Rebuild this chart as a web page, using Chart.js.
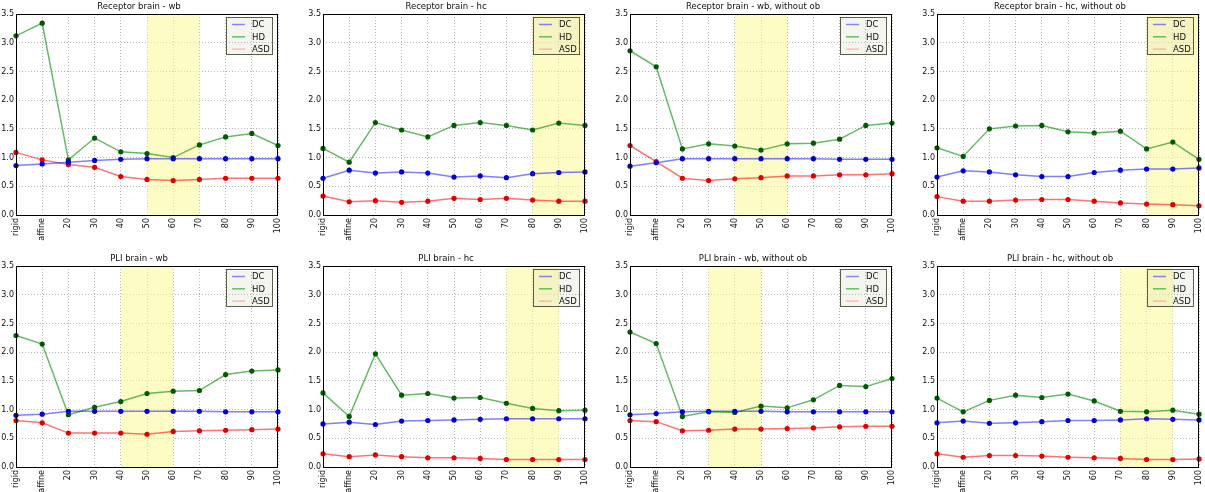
<!DOCTYPE html>
<html>
<head>
<meta charset="utf-8">
<script src="https://cdn.jsdelivr.net/npm/chart.js@4.4.1/dist/chart.umd.min.js"></script>
<style>
    html, body { margin: 0; padding: 0; background: #ffffff; overflow: hidden; }
    body { width: 1205px; height: 492px; position: relative; }
    .panel { position: absolute; }
</style>
</head>
<body>
<script>
// categories and tick labels
const categories = ['rigid', 'affine', '20', '30', '40', '50', '60', '70', '80', '90', '100'];
const yTickValues = [0.0, 0.5, 1.0, 1.5, 2.0, 2.5, 3.0, 3.5];
const seriesNames = ['DC', 'HD', 'ASD'];

const panelTitles = [
    'Receptor brain - wb', 'Receptor brain - hc', 'Receptor brain - wb, without ob', 'Receptor brain - hc, without ob',
    'PLI brain - wb', 'PLI brain - hc', 'PLI brain - wb, without ob', 'PLI brain - hc, without ob'
];
// highlighted range per panel (category labels)
const spanFrom = ['50', '80', '40', '80', '40', '70', '30', '70'];
const spanTo   = ['70', '100', '60', '100', '60', '90', '50', '90'];

// Receptor brain - wb
const recWbDC  = [0.86, 0.89, 0.92, 0.95, 0.97, 0.98, 0.98, 0.98, 0.98, 0.98, 0.98];
const recWbHD  = [3.12, 3.34, 0.96, 1.34, 1.10, 1.07, 1.00, 1.22, 1.36, 1.42, 1.21];
const recWbASD = [1.09, 0.96, 0.88, 0.83, 0.67, 0.62, 0.60, 0.62, 0.64, 0.64, 0.64];
// Receptor brain - hc
const recHcDC  = [0.64, 0.78, 0.73, 0.75, 0.73, 0.66, 0.68, 0.65, 0.72, 0.74, 0.75];
const recHcHD  = [1.16, 0.92, 1.61, 1.48, 1.36, 1.56, 1.61, 1.56, 1.48, 1.60, 1.56];
const recHcASD = [0.33, 0.23, 0.25, 0.22, 0.24, 0.29, 0.27, 0.29, 0.26, 0.24, 0.24];
// Receptor brain - wb, without ob
const recWbNoDC  = [0.85, 0.91, 0.98, 0.98, 0.98, 0.98, 0.98, 0.98, 0.97, 0.97, 0.97];
const recWbNoHD  = [2.86, 2.58, 1.15, 1.24, 1.20, 1.13, 1.24, 1.25, 1.32, 1.56, 1.60];
const recWbNoASD = [1.21, 0.93, 0.64, 0.60, 0.63, 0.65, 0.68, 0.68, 0.70, 0.70, 0.72];
// Receptor brain - hc, without ob
const recHcNoDC  = [0.66, 0.77, 0.75, 0.70, 0.67, 0.67, 0.74, 0.78, 0.80, 0.80, 0.82];
const recHcNoHD  = [1.17, 1.02, 1.50, 1.55, 1.56, 1.45, 1.43, 1.46, 1.15, 1.27, 0.97];
const recHcNoASD = [0.32, 0.24, 0.24, 0.26, 0.27, 0.27, 0.24, 0.21, 0.19, 0.18, 0.16];
// PLI brain - wb
const pliWbDC  = [0.90, 0.92, 0.97, 0.97, 0.97, 0.97, 0.97, 0.97, 0.96, 0.96, 0.96];
const pliWbHD  = [2.29, 2.14, 0.91, 1.04, 1.14, 1.28, 1.32, 1.33, 1.61, 1.67, 1.69];
const pliWbASD = [0.81, 0.77, 0.59, 0.59, 0.59, 0.57, 0.62, 0.63, 0.64, 0.65, 0.66];
// PLI brain - hc
const pliHcDC  = [0.75, 0.78, 0.74, 0.80, 0.81, 0.82, 0.83, 0.84, 0.84, 0.84, 0.84];
const pliHcHD  = [1.29, 0.88, 1.97, 1.25, 1.28, 1.20, 1.21, 1.11, 1.02, 0.98, 0.99];
const pliHcASD = [0.23, 0.18, 0.21, 0.18, 0.16, 0.16, 0.15, 0.13, 0.13, 0.13, 0.13];
// PLI brain - wb, without ob
const pliWbNoDC  = [0.91, 0.93, 0.96, 0.97, 0.97, 0.97, 0.96, 0.96, 0.96, 0.96, 0.96];
const pliWbNoHD  = [2.35, 2.15, 0.88, 0.96, 0.95, 1.06, 1.03, 1.17, 1.42, 1.40, 1.54];
const pliWbNoASD = [0.81, 0.79, 0.63, 0.64, 0.66, 0.66, 0.67, 0.68, 0.70, 0.71, 0.71];
// PLI brain - hc, without ob
const pliHcNoDC  = [0.77, 0.80, 0.76, 0.77, 0.79, 0.81, 0.81, 0.82, 0.84, 0.83, 0.82];
const pliHcNoHD  = [1.20, 0.96, 1.16, 1.25, 1.21, 1.27, 1.15, 0.97, 0.96, 0.99, 0.92];
const pliHcNoASD = [0.23, 0.17, 0.20, 0.20, 0.19, 0.17, 0.16, 0.15, 0.13, 0.13, 0.14];

const panelSeries = [
    [recWbDC, recWbHD, recWbASD],
    [recHcDC, recHcHD, recHcASD],
    [recWbNoDC, recWbNoHD, recWbNoASD],
    [recHcNoDC, recHcNoHD, recHcNoASD],
    [pliWbDC, pliWbHD, pliWbASD],
    [pliHcDC, pliHcHD, pliHcASD],
    [pliWbNoDC, pliWbNoHD, pliWbNoASD],
    [pliHcNoDC, pliHcNoHD, pliHcNoASD]
];

// line / marker colours per series
const lineColors   = ['rgba(0, 0, 255, 0.5)', 'rgba(0, 140, 0, 0.6)', 'rgba(255, 0, 0, 0.55)'];
const markerColors = ['#0000d0', '#005a00', '#e00000'];
const legendColors = ['rgba(0, 0, 255, 0.45)', 'rgba(0, 160, 0, 0.6)', 'rgba(255, 120, 120, 0.45)'];

const FONT = 'DejaVu Sans';
const plotLefts = [16, 323, 630, 937];
const plotTops = [14, 266];
const plotW = 262, plotH = 201;
const axisW = 16, titleH = 14, xAxisH = 31, padRight = 8;

// yellow band + frame + legend drawn inside the plot area
const panelDecor = {
    id: 'panelDecor',
    beforeDatasetsDraw(chart, args, opts) {
        const a = chart.chartArea, x = chart.scales.x, ctx = chart.ctx;
        const x0 = x.getPixelForValue(categories.indexOf(opts.from));
        const x1 = x.getPixelForValue(categories.indexOf(opts.to));
        ctx.save();
        ctx.fillStyle = 'rgba(252, 250, 150, 0.55)';
        ctx.fillRect(x0, a.top, x1 - x0, a.bottom - a.top);
        ctx.restore();
    },
    afterDraw(chart) {
        const a = chart.chartArea, ctx = chart.ctx;
        ctx.save();
        // legend box
        const bw = 47, bh = 38;
        const bx = a.right - 5 - bw, by = a.top + 3;
        ctx.fillStyle = 'rgba(200, 200, 170, 0.18)';
        ctx.fillRect(bx, by, bw, bh);
        ctx.strokeStyle = 'rgba(40, 40, 20, 0.75)';
        ctx.lineWidth = 1;
        ctx.strokeRect(bx + 0.5, by + 0.5, bw - 1, bh - 1);
        ctx.font = '8.5px "' + FONT + '"';
        ctx.textBaseline = 'middle';
        seriesNames.forEach((name, i) => {
            const ry = by + 7.5 + i * 12.3;
            ctx.strokeStyle = legendColors[i];
            ctx.lineWidth = 1.5;
            ctx.beginPath();
            ctx.moveTo(bx + 6, ry);
            ctx.lineTo(bx + 19, ry);
            ctx.stroke();
            ctx.fillStyle = '#111111';
            ctx.fillText(name, bx + 26, ry + 0.5);
        });
        // frame around axes
        ctx.strokeStyle = '#000000';
        ctx.lineWidth = 1;
        ctx.strokeRect(Math.round(a.left) + 0.5, Math.round(a.top) + 0.5,
            Math.round(a.right - a.left) - 1, Math.round(a.bottom - a.top));
        ctx.restore();
    }
};

panelTitles.forEach((title, p) => {
    const col = p % 4, row = Math.floor(p / 4);
    const div = document.createElement('div');
    div.className = 'panel';
    const cw = axisW + plotW + padRight, ch = titleH + plotH + xAxisH;
    div.style.left = (plotLefts[col] - axisW) + 'px';
    div.style.top = (plotTops[row] - titleH) + 'px';
    div.style.width = cw + 'px';
    div.style.height = ch + 'px';
    const canvas = document.createElement('canvas');
    canvas.width = cw;
    canvas.height = ch;
    div.appendChild(canvas);
    document.body.appendChild(div);

    const datasets = panelSeries[p].map((values, i) => ({
        label: seriesNames[i],
        data: values,
        borderColor: lineColors[i],
        borderWidth: 1.5,
        pointRadius: 2.6,
        pointBorderWidth: 0,
        pointBackgroundColor: markerColors[i],
        tension: 0
    }));

    new Chart(canvas, {
        type: 'line',
        data: { labels: categories, datasets: datasets },
        plugins: [panelDecor],
        options: {
            responsive: false,
            animation: false,
            devicePixelRatio: 1,
            layout: { padding: { left: 0, right: padRight, top: 0, bottom: 0 } },
            plugins: {
                legend: { display: false },
                tooltip: { enabled: false },
                title: {
                    display: true,
                    text: title,
                    color: '#111111',
                    font: { family: FONT, size: 8.5, weight: 'normal', lineHeight: '10px' },
                    padding: { top: 2, bottom: 2 }
                },
                panelDecor: { from: spanFrom[p], to: spanTo[p] }
            },
            scales: {
                x: {
                    type: 'category',
                    offset: false,
                    afterFit(scale) {
                        scale.height = xAxisH;
                        scale.paddingLeft = 0;
                        scale.paddingRight = 0;
                    },
                    grid: { color: '#b8b8b8', drawTicks: false },
                    border: { display: false, dash: [1, 2] },
                    ticks: {
                        autoSkip: false,
                        minRotation: 90,
                        maxRotation: 90,
                        padding: 3,
                        color: '#111111',
                        font: { family: FONT, size: 8 }
                    }
                },
                y: {
                    min: 0,
                    max: 3.5,
                    afterFit(scale) {
                        scale.width = axisW;
                        scale.paddingTop = 0;
                        scale.paddingBottom = 0;
                    },
                    afterBuildTicks(scale) { scale.ticks = yTickValues.map(v => ({ value: v })); },
                    grid: { color: '#b8b8b8', drawTicks: false },
                    border: { display: false, dash: [1, 2] },
                    ticks: {
                        padding: 2,
                        color: '#111111',
                        font: { family: FONT, size: 8 },
                        callback: v => Number(v).toFixed(1)
                    }
                }
            }
        }
    });
});
</script>
</body>
</html>
